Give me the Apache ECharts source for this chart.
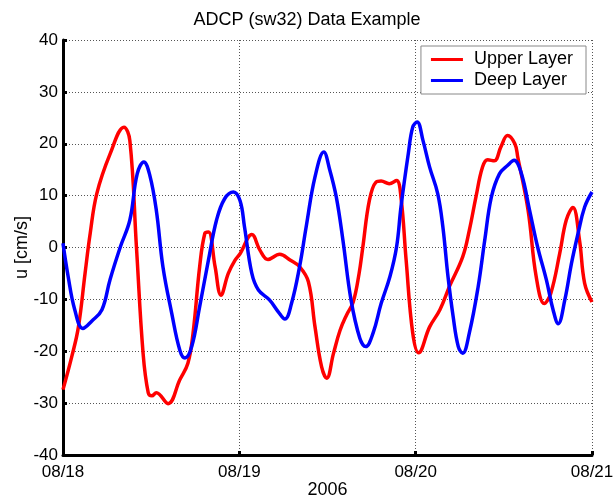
<!DOCTYPE html>
<html>
<head>
<meta charset="utf-8">
<script src="https://cdn.jsdelivr.net/npm/echarts@6/dist/echarts.min.js"></script>
<style>
  html, body { margin: 0; padding: 0; background: #fff; }
  #chart { width: 614px; height: 499px; }
</style>
</head>
<body>
<div id="chart"></div>
<script>
// Hours since 08/18 00:00 and eastward velocity u (cm/s) for each layer
var upperHours = [0, 1.2, 2.1, 3.0, 3.7, 4.6, 6.4, 8.3, 9.1, 10.0, 10.9, 11.6, 12.1, 12.7, 14.3, 15.9, 17.0, 17.7, 18.6, 19.3, 19.8, 20.7, 21.5, 22.5, 23.4, 24.1, 25.7, 26.8, 27.9, 29.5, 30.9, 32.2, 33.4, 34.3, 35.2, 35.9, 36.8, 37.7, 38.6, 39.5, 40.3, 40.8, 41.7, 42.6, 43.3, 44.4, 45.4, 46.0, 46.7, 47.6, 48.4, 49.9, 51.3, 52.6, 54.4, 55.3, 56.2, 57.1, 57.8, 58.7, 59.6, 60.5, 61.5, 61.9, 63.3, 64.4, 65.5, 66.4, 67.6, 68.5, 69.4, 70.3, 71.0, 72];
var upperValues = [-27.4, -21, -15.3, -5, 2.7, 10.4, 18, 23.2, 20.6, 0, -20.4, -28, -28.6, -28, -30.1, -25.5, -22.3, -16.5, -3.7, 2.7, 3, -3.7, -9.2, -5, -2.5, -1.2, 2.5, -0.5, -2.3, -1.3, -2.4, -3.7, -6.6, -15.3, -23, -25.2, -20.5, -16, -13, -10.5, -5, 0, 9.1, 12.6, 12.8, 12.3, 12.9, 9.7, -2.4, -16.5, -20.3, -15.3, -12, -7.5, -1.8, 3.3, 9.7, 15.5, 16.9, 16.7, 19.4, 21.6, 20, 17.4, 7.2, -5.6, -10.8, -8.8, -1.2, 5.3, 7.7, 1.4, -6.9, -10.5];

var deepHours = [0, 0.7, 1.6, 2.7, 3.9, 5.3, 6.4, 7.8, 9.1, 10.1, 11.0, 11.8, 12.7, 13.6, 14.8, 15.9, 16.6, 17.5, 18.6, 19.8, 20.9, 22.0, 23.2, 24.1, 24.7, 25.7, 26.6, 28.1, 29.3, 30.2, 31.1, 32.2, 33.1, 34.3, 35.5, 36.3, 37.2, 38.1, 39.2, 40.4, 41.2, 42.2, 43.3, 44.5, 45.4, 46.0, 47.0, 47.6, 48.2, 49.0, 49.9, 51.0, 51.7, 52.4, 53.1, 53.8, 54.4, 55.3, 56.5, 57.4, 58.3, 59.4, 60.5, 61.4, 62.4, 63.5, 64.6, 65.8, 66.7, 67.4, 68.3, 69.2, 70.1, 71.0, 72];
var deepValues = [0.8, -5.6, -12, -15.6, -14.2, -12, -6.2, 0.1, 5.3, 14.2, 16.5, 14, 7.2, -3.7, -12.7, -19.8, -21.3, -19.2, -11.4, -2.4, 5.3, 9.4, 10.7, 9, 4, -5, -8.2, -10.1, -12.4, -13.8, -10.8, -3.7, 4, 13.6, 18.4, 15, 9.7, 1.4, -10.1, -17.5, -19.1, -16.5, -10.8, -5.6, 0.1, 7.8, 18.1, 23.2, 24.2, 20.6, 15.5, 10.4, 4, -5.6, -13.3, -19.1, -20.4, -16.5, -7.6, 1.4, 9.7, 14.2, 15.8, 16.8, 14.2, 7.2, 0.1, -6.3, -12, -14.7, -10.1, -3.1, 2.7, 7.8, 10.7];

var dayLabels = ['08/18', '08/19', '08/20', '08/21'];
var seriesNames = ['Upper Layer', 'Deep Layer'];

var FONT = '"Liberation Sans", Arial, Helvetica, sans-serif';

function pairs(xs, ys) {
  return xs.map(function (x, i) { return [x, ys[i]]; });
}

var gridLine = { show: true, lineStyle: { color: '#555', width: 1, type: [1, 2] } };

var chart = echarts.init(document.getElementById('chart'), null, { renderer: 'canvas' });
chart.setOption({
  animation: false,
  backgroundColor: '#fff',
  title: {
    text: 'ADCP (sw32) Data Example',
    left: 'center',
    top: 11,
    padding: 0,
    textStyle: { fontFamily: FONT, fontSize: 18, fontWeight: 'normal', color: '#000' }
  },
  legend: {
    data: seriesNames,
    orient: 'vertical',
    right: 28,
    top: 46,
    padding: [3, 13, 3, 10],
    itemGap: 0,
    itemWidth: 32,
    itemHeight: 3,
    icon: 'rect',
    backgroundColor: '#fff',
    borderColor: '#888',
    borderWidth: 1,
    borderRadius: 0,
    textStyle: { fontFamily: FONT, fontSize: 18, color: '#000', lineHeight: 21, padding: [0, 0, 0, 6] }
  },
  grid: {
    left: 63, right: 22, top: 40, bottom: 44,
    containLabel: false,
    outerBoundsMode: 'none'
  },
  xAxis: {
    type: 'value',
    min: 0,
    max: 72,
    interval: 24,
    name: '2006',
    nameLocation: 'middle',
    nameGap: 26,
    nameMoveOverlap: false,
    nameTextStyle: { fontFamily: FONT, fontSize: 18, color: '#000' },
    axisLine: { onZero: false, lineStyle: { color: '#000', width: 3 } },
    axisTick: { inside: true, length: 4, lineStyle: { color: '#000', width: 3 } },
    axisLabel: {
      fontFamily: FONT, fontSize: 17, color: '#000', margin: 9,
      showMinLabel: true, showMaxLabel: true, hideOverlap: false,
      formatter: function (v) { return dayLabels[Math.round(v / 24)]; }
    },
    splitLine: gridLine
  },
  yAxis: {
    type: 'value',
    min: -40,
    max: 40,
    interval: 10,
    name: 'u [cm/s]',
    nameLocation: 'middle',
    nameGap: 32,
    nameMoveOverlap: false,
    nameTextStyle: { fontFamily: FONT, fontSize: 18, color: '#000' },
    axisLine: { onZero: false, lineStyle: { color: '#000', width: 3 } },
    axisTick: { inside: true, length: 4, lineStyle: { color: '#000', width: 3 } },
    axisLabel: { fontFamily: FONT, fontSize: 17, color: '#000', margin: 5 },
    splitLine: gridLine
  },
  series: [
    {
      name: seriesNames[0],
      type: 'line',
      data: pairs(upperHours, upperValues),
      smooth: 0.4,
      showSymbol: false,
      symbol: 'none',
      color: '#ff0000',
      lineStyle: { color: '#ff0000', width: 3.5 }
    },
    {
      name: seriesNames[1],
      type: 'line',
      data: pairs(deepHours, deepValues),
      smooth: 0.4,
      showSymbol: false,
      symbol: 'none',
      color: '#0000ff',
      lineStyle: { color: '#0000ff', width: 3.5 }
    }
  ]
});
</script>
</body>
</html>
